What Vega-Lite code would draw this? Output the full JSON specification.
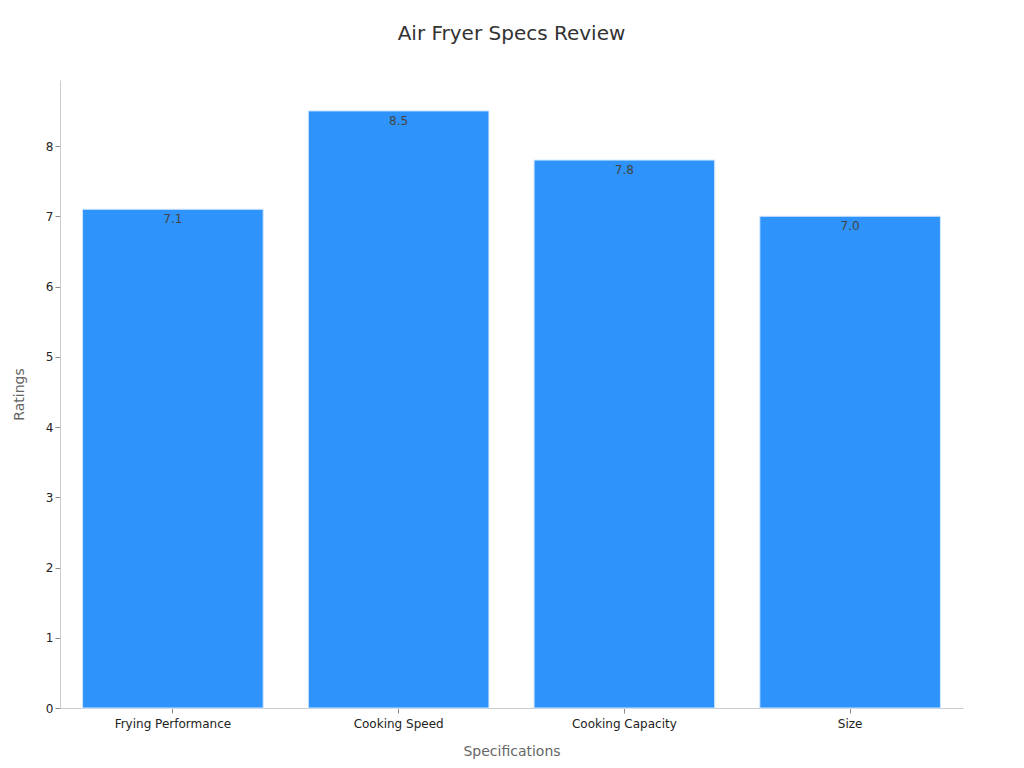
{
  "$schema": "https://vega.github.io/schema/vega-lite/v6.json",
  "autosize": {"type": "none"},
  "width": 903,
  "height": 628,
  "padding": {"left": 60, "top": 80, "right": 61, "bottom": 60},
  "background": "white",
  "title": {
    "text": "Air Fryer Specs Review",
    "fontSize": 20,
    "font": "DejaVu Sans",
    "fontWeight": "normal",
    "color": "#333333",
    "anchor": "middle",
    "offset": 36
  },
  "config": {
    "view": {"stroke": null},
    "font": "DejaVu Sans"
  },
  "data": {
    "values": [
      {"spec": "Frying Performance", "rating": 7.1, "label": "7.1"},
      {"spec": "Cooking Speed", "rating": 8.5, "label": "8.5"},
      {"spec": "Cooking Capacity", "rating": 7.8, "label": "7.8"},
      {"spec": "Size", "rating": 7.0, "label": "7.0"}
    ]
  },
  "encoding": {
    "x": {
      "field": "spec",
      "type": "nominal",
      "sort": null,
      "title": "Specifications",
      "scale": {"paddingInner": 0.2, "paddingOuter": 0.1},
      "axis": {
        "labelAngle": 0,
        "labelFontSize": 12,
        "labelColor": "#222222",
        "labelPadding": 5,
        "titleFontSize": 14,
        "titleFontWeight": "normal",
        "titleColor": "#666666",
        "titlePadding": 15,
        "domainColor": "#cccccc",
        "tickColor": "#888888",
        "tickSize": 5
      }
    },
    "y": {
      "field": "rating",
      "type": "quantitative",
      "title": "Ratings",
      "scale": {"domain": [0, 8.94], "nice": false},
      "axis": {
        "values": [0, 1, 2, 3, 4, 5, 6, 7, 8],
        "grid": false,
        "labelFontSize": 12,
        "labelColor": "#222222",
        "titleFontSize": 14,
        "titleFontWeight": "normal",
        "titleColor": "#666666",
        "titlePadding": 19,
        "domainColor": "#cccccc",
        "tickColor": "#888888",
        "tickSize": 5
      }
    }
  },
  "layer": [
    {
      "mark": {"type": "bar", "color": "#2E93FA", "stroke": "#cfe6ff", "strokeWidth": 1}
    },
    {
      "mark": {"type": "text", "baseline": "top", "dy": 5, "fontSize": 12, "color": "#444444"},
      "encoding": {"text": {"field": "label"}}
    }
  ]
}
